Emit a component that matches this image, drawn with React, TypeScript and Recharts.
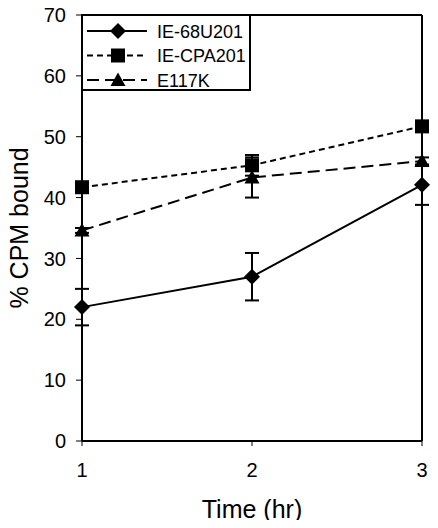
import React from "react";
import {
  LineChart,
  Line,
  XAxis,
  YAxis,
  ErrorBar,
  ReferenceLine,
} from "recharts";

const TIMES = [1, 2, 3];
const IE68_VALUES = [22, 27, 42.1];
const IE68_ERRORS = [3, 3.9, 3.3];
const CPA_VALUES = [41.7, 45.3, 51.7];
const CPA_ERRORS = [0.5, 1.7, 0.5];
const E117K_VALUES = [34.6, 43.3, 46];
const E117K_ERRORS = [0.4, 3.3, 0.6];
const Y_TICKS = [0, 10, 20, 30, 40, 50, 60, 70];

const SERIES = [
  { key: "ie68", name: "IE-68U201", dash: undefined, shape: "diamond" },
  { key: "cpa", name: "IE-CPA201", dash: "6 4", shape: "square" },
  { key: "e117", name: "E117K", dash: "12 6", shape: "triangle" },
];

const data = TIMES.map((t, i) => ({
  t,
  ie68: IE68_VALUES[i],
  ie68Err: IE68_ERRORS[i],
  cpa: CPA_VALUES[i],
  cpaErr: CPA_ERRORS[i],
  e117: E117K_VALUES[i],
  e117Err: E117K_ERRORS[i],
}));

const FONT = "'Liberation Sans', Arial, sans-serif";

function Marker({ shape, cx, cy }: { shape: string; cx: number; cy: number }) {
  if (shape === "diamond") {
    const r = 8;
    return (
      <polygon
        points={`${cx},${cy - r} ${cx + r},${cy} ${cx},${cy + r} ${cx - r},${cy}`}
        fill="#000"
      />
    );
  }
  if (shape === "square") {
    const r = 7;
    return <rect x={cx - r} y={cy - r} width={r * 2} height={r * 2} fill="#000" />;
  }
  const r = 7.5;
  return (
    <polygon
      points={`${cx},${cy - r} ${cx + r},${cy + r * 0.8} ${cx - r},${cy + r * 0.8}`}
      fill="#000"
    />
  );
}

function makeDot(shape: string) {
  return (props: any) => {
    const { cx, cy, index } = props;
    if (cx == null || cy == null) return <g key={index} />;
    return <Marker key={`${shape}-${index}`} shape={shape} cx={cx} cy={cy} />;
  };
}

// legend box sits in the top-left corner of the plot
function LegendBox() {
  return (
    <div
      style={{
        position: "absolute",
        left: 81,
        top: 14,
        width: 170,
        height: 77,
        border: "2px solid #000",
        boxSizing: "border-box",
        background: "#fff",
      }}
    >
      <svg width={166} height={73} style={{ display: "block" }}>
        {SERIES.map((s, i) => {
          const y = 15 + i * 24.5;
          return (
            <g key={s.key}>
              <line
                x1={4}
                x2={64}
                y1={y}
                y2={y}
                stroke="#000"
                strokeWidth={2}
                strokeDasharray={s.dash}
              />
              <Marker shape={s.shape} cx={35} cy={y} />
              <text x={74} y={y + 6.5} fontSize={18} fontFamily={FONT} fill="#000">
                {s.name}
              </text>
            </g>
          );
        })}
      </svg>
    </div>
  );
}

const YLabel = ({ viewBox }: any) => {
  const cx = 19;
  const cy = viewBox.y + viewBox.height / 2;
  return (
    <text
      x={cx}
      y={cy}
      transform={`rotate(-90, ${cx}, ${cy})`}
      textAnchor="middle"
      dominantBaseline="central"
      fontSize={25}
      fontFamily={FONT}
      fill="#000"
    >
      % CPM bound
    </text>
  );
};

const XLabel = ({ viewBox }: any) => {
  const cx = viewBox.x + viewBox.width / 2;
  return (
    <text
      x={cx}
      y={viewBox.y + 77}
      textAnchor="middle"
      fontSize={25}
      fontFamily={FONT}
      fill="#000"
    >
      Time (hr)
    </text>
  );
};

export default function App() {
  return (
    <div style={{ position: "relative", width: 438, height: 528, margin: -8 }}>
      <LineChart
        width={438}
        height={528}
        data={data}
        margin={{ top: 15, right: 16, left: 22, bottom: 27 }}
      >
        <XAxis
          dataKey="t"
          type="number"
          domain={[1, 3]}
          ticks={TIMES}
          axisLine={{ stroke: "#000", strokeWidth: 2 }}
          tickLine={{ stroke: "#000" }}
          tickSize={5}
          tick={{ fill: "#000", fontSize: 20, fontFamily: FONT }}
          tickMargin={17}
          height={60}
          label={<XLabel />}
        />
        <YAxis
          type="number"
          domain={[0, 70]}
          ticks={Y_TICKS}
          interval={0}
          axisLine={{ stroke: "#000", strokeWidth: 2 }}
          tickLine={{ stroke: "#000" }}
          tickSize={6}
          tick={{ fill: "#000", fontSize: 20, fontFamily: FONT }}
          tickMargin={10}
          width={60}
          label={<YLabel />}
        />
        <ReferenceLine y={70} stroke="#000" strokeWidth={2} />
        <ReferenceLine x={3} stroke="#000" strokeWidth={2} />
        {SERIES.map((s) => (
          <Line
            key={s.key}
            dataKey={s.key}
            name={s.name}
            stroke="#000"
            strokeWidth={2}
            strokeDasharray={s.dash}
            dot={makeDot(s.shape)}
            activeDot={false}
            isAnimationActive={false}
          >
            <ErrorBar
              dataKey={`${s.key}Err`}
              direction="y"
              width={7}
              stroke="#000"
              strokeWidth={2}
              isAnimationActive={false}
            />
          </Line>
        ))}
      </LineChart>
      <LegendBox />
    </div>
  );
}
